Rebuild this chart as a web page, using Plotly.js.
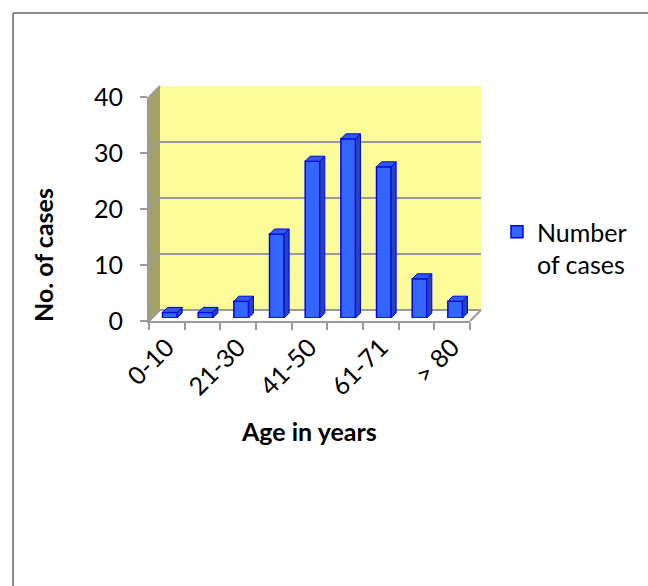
<!DOCTYPE html>
<html>
<head>
<meta charset="utf-8">
<script src="https://cdn.plot.ly/plotly-3.0.1.min.js"></script>
<style>
  html, body { margin: 0; padding: 0; background: #ffffff; }
  #chart { width: 648px; height: 586px; }
</style>
</head>
<body>
<div id="chart"></div>
<script>
// ---- data ----
const categories = ['0-10', '11-20', '21-30', '31-40', '41-50', '51-60', '61-71', '71-80', '> 80'];
const cases = [1, 1, 3, 15, 28, 32, 27, 7, 3];
const shownLabels = ['0-10', '', '21-30', '', '41-50', '', '61-71', '', '> 80'];
const yTicks = [0, 10, 20, 30, 40];
const seriesName = 'Number<br>of cases';

// ---- geometry (pixels) ----
const W = 648, H = 586;
const X0 = 149, X1 = 470;   // front plane, category axis extent
const Y0 = 321, Y1 = 97;    // front plane, value 0 and value 40
const D = 11;               // depth of back wall
const DB = 3;               // depth of bar front faces
const BD = 5;               // bar depth
const YMAX = 40;
const FONT = 'Lato, "Open Sans", sans-serif';
const FS = 25;
const GRAY = '#9a9a9a';

const fx = p => p / W;
const fy = p => 1 - p / H;
const n = categories.length;
const idx = categories.map((c, i) => i);
const xr = [-0.5, n - 0.5];
const pxPerCat = (X1 - X0) / n;
const pxPerUnit = (Y0 - Y1) / YMAX;
const barW = 0.41;
const ddx = BD / pxPerCat, ddy = BD / pxPerUnit;

// 3D faces of bars computed from the data values
const topX = [], topY = [], sideX = [], sideY = [];
idx.forEach(i => {
  const l = i - barW / 2, r = i + barW / 2, v = cases[i];
  topX.push(l, r, r + ddx, l + ddx, l, null);
  topY.push(v, v, v + ddy, v + ddy, v, null);
  sideX.push(r, r, r + ddx, r + ddx, r, null);
  sideY.push(0, v, v + ddy, ddy, 0, null);
});

const empty = (xa, ya) => ({ type: 'scatter', mode: 'markers', x: [], y: [], xaxis: xa, yaxis: ya,
  showlegend: false, hoverinfo: 'skip' });

const traces = [
  empty('x', 'y'),
  {
    type: 'bar', x: idx, y: cases, width: barW, xaxis: 'x2', yaxis: 'y2',
    name: seriesName, showlegend: true,
    marker: { color: '#3366FF', line: { color: '#0000FF', width: 1.5 } },
    hoverinfo: 'skip'
  },
  {
    type: 'scatter', mode: 'lines', x: sideX, y: sideY, xaxis: 'x2', yaxis: 'y2',
    fill: 'toself', fillcolor: '#2545B0', line: { color: '#0000EE', width: 1 },
    showlegend: false, hoverinfo: 'skip'
  },
  {
    type: 'scatter', mode: 'lines', x: topX, y: topY, xaxis: 'x2', yaxis: 'y2',
    fill: 'toself', fillcolor: '#2F5AE6', line: { color: '#0000EE', width: 1 },
    showlegend: false, hoverinfo: 'skip'
  },
  empty('x3', 'y3'),
  empty('x4', 'y3')
];

// decorative walls
const shapes = [];
// back wall
shapes.push({ type: 'rect', xref: 'paper', yref: 'paper', layer: 'below',
  x0: fx(X0 + D), x1: fx(X1 + D), y0: fy(Y0 - D), y1: fy(Y1 - D),
  fillcolor: '#FBFB99', line: { width: 0 } });
// side wall
shapes.push({ type: 'path', xref: 'paper', yref: 'paper', layer: 'below',
  path: `M${fx(X0)},${fy(Y1)} L${fx(X0 + D)},${fy(Y1 - D)} L${fx(X0 + D)},${fy(Y0 - D)} L${fx(X0)},${fy(Y0)} Z`,
  fillcolor: '#A3A365', line: { width: 0 } });
// side wall grid diagonals
yTicks.forEach(t => {
  const yp = Y0 - t * pxPerUnit;
  shapes.push({ type: 'line', xref: 'paper', yref: 'paper', layer: 'below',
    x0: fx(X0), y0: fy(yp), x1: fx(X0 + D), y1: fy(yp - D),
    line: { color: GRAY, width: 2 } });
});
// floor right edge
shapes.push({ type: 'line', xref: 'paper', yref: 'paper', layer: 'above',
  x0: fx(X1), y0: fy(Y0), x1: fx(X1 + D), y1: fy(Y0 - D),
  line: { color: GRAY, width: 2 } });
// page border (top, left)
shapes.push({ type: 'line', xref: 'paper', yref: 'paper', x0: fx(13), y0: fy(13), x1: 1.01, y1: fy(13),
  line: { color: '#8c8c8c', width: 2 } });
shapes.push({ type: 'line', xref: 'paper', yref: 'paper', x0: fx(13), y0: fy(13), x1: fx(13), y1: -0.01,
  line: { color: '#8c8c8c', width: 2 } });

const hidden = { visible: false, fixedrange: true };

const layout = {
  width: W, height: H,
  margin: { l: 0, r: 0, t: 0, b: 0 },
  paper_bgcolor: '#ffffff', plot_bgcolor: 'rgba(0,0,0,0)',
  font: { family: FONT, size: FS, color: '#000000' },
  showlegend: true,
  legend: { x: fx(497), y: fy(209), xanchor: 'left', yanchor: 'top', valign: 'top',
    bgcolor: 'rgba(0,0,0,0)', font: { family: FONT, size: FS, color: '#000' } },
  // back wall grid
  xaxis: { domain: [fx(X0 + D), fx(X1 + D)], range: xr, anchor: 'y',
    showgrid: false, zeroline: false, showticklabels: false, ticks: '', showline: false },
  yaxis: { domain: [fy(Y0 - D), fy(Y1 - D)], range: [0, YMAX], anchor: 'x',
    tickvals: yTicks, showgrid: true, gridcolor: GRAY, gridwidth: 2,
    zeroline: true, zerolinecolor: GRAY, zerolinewidth: 2,
    showticklabels: false, ticks: '', showline: false },
  // bars plane
  xaxis2: Object.assign({ domain: [fx(X0 + DB), fx(X1 + DB)], range: xr, anchor: 'y2' }, hidden),
  yaxis2: Object.assign({ domain: [fy(Y0 - DB), fy(Y1 - DB)], range: [0, YMAX], anchor: 'x2' }, hidden),
  // front axes
  xaxis3: { domain: [fx(X0), fx(X1)], range: xr, anchor: 'y3',
    showline: true, linecolor: GRAY, linewidth: 2,
    ticks: 'outside', ticklen: 7, tickwidth: 2, tickcolor: GRAY,
    tickvals: idx.concat([n]).map(i => i - 0.5), ticktext: idx.concat([n]).map(() => ''),
    showgrid: false, zeroline: false },
  xaxis4: { overlaying: 'x3', anchor: 'y3', range: xr, side: 'bottom',
    tickvals: idx, ticktext: shownLabels, tickangle: -45, ticks: '',
    ticklabelstandoff: 6, tickfont: { family: FONT, size: FS, color: '#000' },
    showgrid: false, zeroline: false, showline: false },
  yaxis3: { domain: [fy(Y0), fy(Y1)], range: [0, YMAX], anchor: 'x3',
    showline: true, linecolor: GRAY, linewidth: 2,
    ticks: 'outside', ticklen: 7, tickwidth: 2, tickcolor: GRAY,
    tickvals: yTicks, ticktext: yTicks.map(String), ticklabelstandoff: 12,
    tickfont: { family: FONT, size: FS, color: '#000' },
    showgrid: false, zeroline: false },
  shapes: shapes,
  annotations: [
    { text: '<b>No. of cases</b>', xref: 'paper', yref: 'paper', x: fx(43), y: fy(255),
      textangle: -90, showarrow: false, xanchor: 'center', yanchor: 'middle',
      font: { family: FONT, size: FS, color: '#000' } },
    { text: '<b>Age in years</b>', xref: 'paper', yref: 'paper', x: fx(309), y: fy(431),
      showarrow: false, xanchor: 'center', yanchor: 'middle',
      font: { family: FONT, size: FS, color: '#000' } }
  ]
};

Plotly.newPlot('chart', traces, layout, { staticPlot: true, displayModeBar: false });
</script>
</body>
</html>
